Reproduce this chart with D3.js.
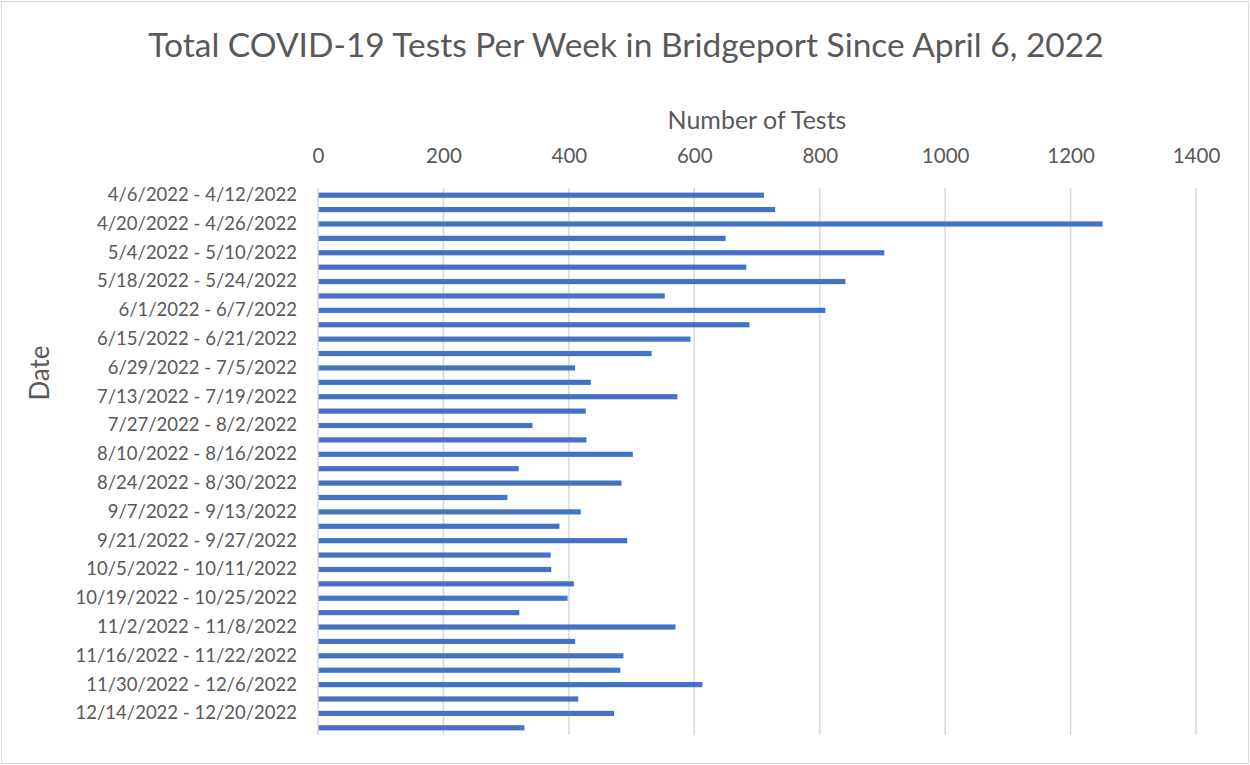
<!DOCTYPE html>
<html>
<head>
<meta charset="utf-8">
<script src="https://cdn.jsdelivr.net/npm/d3@7"></script>
<style>
  body { margin: 0; background: #fff; }
  svg text { font-family: Lato, "Open Sans", sans-serif; fill: #595959; }
</style>
</head>
<body>
<svg id="chart" width="1250" height="765"></svg>
<script>
const weeks = [
    '4/6/2022 - 4/12/2022', '4/13/2022 - 4/19/2022', '4/20/2022 - 4/26/2022', '4/27/2022 - 5/3/2022',
    '5/4/2022 - 5/10/2022', '5/11/2022 - 5/17/2022', '5/18/2022 - 5/24/2022', '5/25/2022 - 5/31/2022',
    '6/1/2022 - 6/7/2022', '6/8/2022 - 6/14/2022', '6/15/2022 - 6/21/2022', '6/22/2022 - 6/28/2022',
    '6/29/2022 - 7/5/2022', '7/6/2022 - 7/12/2022', '7/13/2022 - 7/19/2022', '7/20/2022 - 7/26/2022',
    '7/27/2022 - 8/2/2022', '8/3/2022 - 8/9/2022', '8/10/2022 - 8/16/2022', '8/17/2022 - 8/23/2022',
    '8/24/2022 - 8/30/2022', '8/31/2022 - 9/6/2022', '9/7/2022 - 9/13/2022', '9/14/2022 - 9/20/2022',
    '9/21/2022 - 9/27/2022', '9/28/2022 - 10/4/2022', '10/5/2022 - 10/11/2022', '10/12/2022 - 10/18/2022',
    '10/19/2022 - 10/25/2022', '10/26/2022 - 11/1/2022', '11/2/2022 - 11/8/2022', '11/9/2022 - 11/15/2022',
    '11/16/2022 - 11/22/2022', '11/23/2022 - 11/29/2022', '11/30/2022 - 12/6/2022', '12/7/2022 - 12/13/2022',
    '12/14/2022 - 12/20/2022', '12/21/2022 - 12/27/2022'
];

const tests = [
    711, 729, 1251, 650, 903, 683, 841, 553, 809, 688, 594, 532,
    410, 435, 573, 427, 342, 428, 502, 320, 484, 302, 419, 385,
    493, 371, 372, 408, 398, 321, 570, 410, 487, 482, 613, 415,
    472, 329
];

const xTicks = [0, 200, 400, 600, 800, 1000, 1200, 1400];

const svg = d3.select('#chart');
const margin = { left: 318, right: 54, top: 188, bottom: 30 };
const width = 1250, height = 765;

// outer chart border
svg.append('rect')
    .attr('x', 1.5).attr('y', 1.5)
    .attr('width', width - 3).attr('height', height - 3)
    .style('fill', '#fff')
    .style('stroke', '#d9d9d9')
    .style('stroke-width', 1);

let xScale = d3.scaleLinear()
    .domain([0, 1400])
    .range([margin.left, width - margin.right]);

let yScale = d3.scaleBand()
    .domain(weeks)
    .range([margin.top, height - margin.bottom])
    .paddingInner(0.64)
    .paddingOuter(0.32);

// gridlines
svg.append('g')
    .attr('class', 'grid')
    .selectAll('line')
    .data(xTicks.slice(1))
    .enter()
    .append('line')
    .attr('x1', (d) => xScale(d))
    .attr('x2', (d) => xScale(d))
    .attr('y1', margin.top)
    .attr('y2', height - margin.bottom)
    .style('stroke', '#d9d9d9')
    .style('stroke-width', 1.5);

// top axis labels
let xAxis = d3.axisTop(xScale)
    .tickValues(xTicks)
    .tickSize(0)
    .tickPadding(0)
    .tickFormat(d3.format('d'));

let xg = svg.append('g')
    .attr('transform', 'translate(0, 163)')
    .call(xAxis);
xg.select('.domain').remove();
xg.selectAll('text')
    .style('font-size', '20.5px')
    .style('fill', '#595959');

// bars
svg.append('g')
    .attr('class', 'bars')
    .selectAll('rect')
    .data(tests)
    .enter()
    .append('rect')
    .attr('x', xScale(0))
    .attr('y', (d, i) => yScale(weeks[i]))
    .attr('width', (d) => xScale(d) - xScale(0))
    .attr('height', yScale.bandwidth())
    .style('fill', '#4472c4');

// vertical axis line
svg.append('line')
    .attr('x1', xScale(0)).attr('x2', xScale(0))
    .attr('y1', margin.top).attr('y2', height - margin.bottom)
    .style('stroke', '#d9d9d9')
    .style('stroke-width', 1.5);

// category labels, every other week
let yAxis = d3.axisLeft(yScale)
    .tickValues(weeks.filter((d, i) => i % 2 === 0))
    .tickSize(0)
    .tickPadding(21);

let yg = svg.append('g')
    .attr('transform', `translate(${margin.left}, 0)`)
    .call(yAxis);
yg.select('.domain').remove();
yg.selectAll('text')
    .style('font-size', '18.5px')
    .style('fill', '#595959');

// titles
svg.append('text')
    .attr('x', 626)
    .attr('y', 57)
    .attr('text-anchor', 'middle')
    .style('font-size', '33.5px')
    .text('Total COVID-19 Tests Per Week in Bridgeport Since April 6, 2022');

svg.append('text')
    .attr('x', 757)
    .attr('y', 129)
    .attr('text-anchor', 'middle')
    .style('font-size', '25px')
    .text('Number of Tests');

svg.append('text')
    .attr('transform', 'translate(49, 373) rotate(-90)')
    .attr('text-anchor', 'middle')
    .style('font-size', '26px')
    .text('Date');
</script>
</body>
</html>
